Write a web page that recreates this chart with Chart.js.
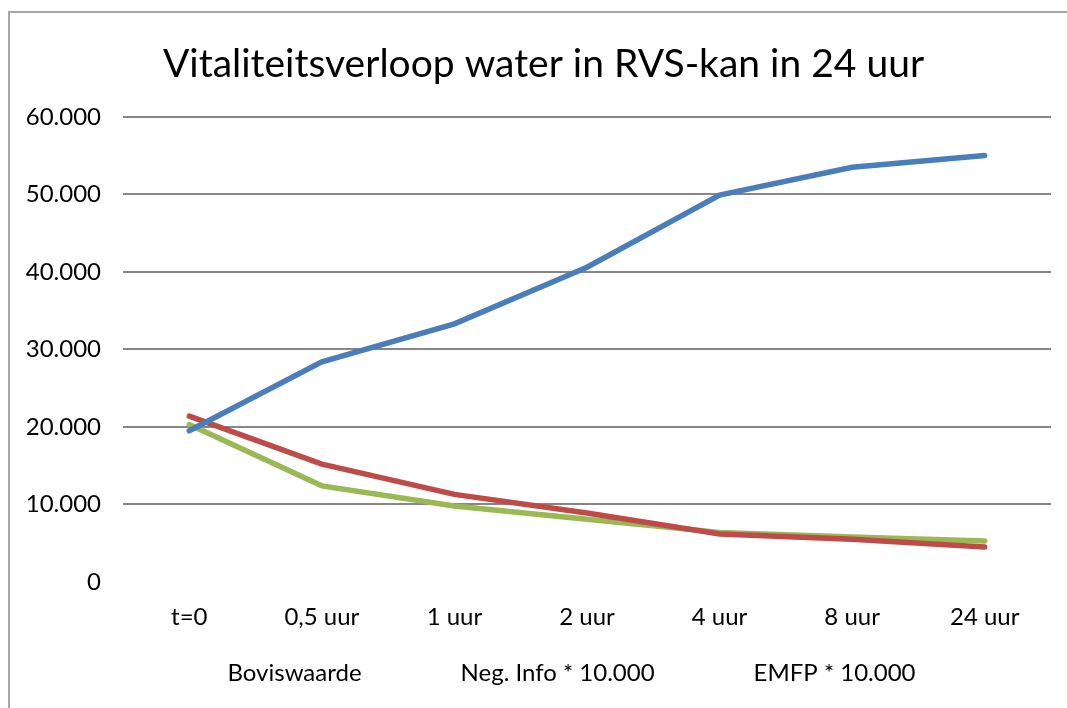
<!DOCTYPE html>
<html>
<head>
<meta charset="utf-8">
<script src="https://cdn.jsdelivr.net/npm/chart.js@4/dist/chart.umd.min.js"></script>
<style>
  body { margin: 0; background: #fff; }
  #wrap { position: relative; width: 1067px; height: 708px; }
  #frame { position: absolute; left: 8px; top: 11px; width: 1100px; height: 720px; border: 2px solid #a6a6a6; box-sizing: border-box; }
  canvas { position: absolute; left: 0; top: 0; }
</style>
</head>
<body>
<div id="wrap">
  <div id="frame"></div>
  <canvas id="chart" width="1067" height="708"></canvas>
</div>
<script>
const labels = ["t=0", "0,5 uur", "1 uur", "2 uur", "4 uur", "8 uur", "24 uur"];
const boviswaarde = [19500, 28400, 33300, 40600, 49900, 53500, 55000];
const negInfo = [21400, 15200, 11300, 8900, 6200, 5500, 4500];
const emfp = [20300, 12400, 9800, 8100, 6400, 5800, 5300];
const yTicks = [0, 10000, 20000, 30000, 40000, 50000, 60000];

const font = "Lato, 'Open Sans', sans-serif";

function fmt(v) {
  return v === 0 ? "0" : v.toLocaleString("de-DE");
}

// legend without colour keys, only the names
function legendLabels(chart) {
  return chart.data.datasets.map((ds, i) => ({
    text: ds.label,
    fillStyle: "rgba(0,0,0,0)",
    strokeStyle: "rgba(0,0,0,0)",
    lineWidth: 0,
    fontColor: "#000",
    datasetIndex: i,
  }));
}

// title and legend sit a little right of the canvas centre in the original
const nudge = {
  id: "nudge",
  afterLayout(chart) {
    if (chart.titleBlock) chart.titleBlock.left += 36;
    if (chart.legend) chart.legend.left += 14;
  },
};

const ctx = document.getElementById("chart").getContext("2d");
new Chart(ctx, {
  type: "line",
  data: {
    labels: labels,
    datasets: [
      { label: "Boviswaarde", data: boviswaarde, borderColor: "#4a7ebb", backgroundColor: "#4a7ebb" },
      { label: "Neg. Info * 10.000", data: negInfo, borderColor: "#be4b48", backgroundColor: "#be4b48" },
      { label: "EMFP * 10.000", data: emfp, borderColor: "#98b954", backgroundColor: "#98b954" },
    ],
  },
  plugins: [nudge],
  options: {
    responsive: false,
    animation: false,
    elements: {
      line: { borderWidth: 5.5, tension: 0, borderCapStyle: "round" },
      point: { radius: 0 },
    },
    layout: { padding: { left: 0, right: 16, top: 0, bottom: 13 } },
    plugins: {
      title: {
        display: true,
        text: "Vitaliteitsverloop water in RVS-kan in 24 uur",
        color: "#000",
        font: { family: font, size: 39, weight: "normal" },
        padding: { top: 41, bottom: 29 },
      },
      legend: {
        position: "bottom",
        labels: {
          boxWidth: 66,
          boxHeight: 0,
          padding: 21,
          color: "#000",
          font: { family: font, size: 24 },
          generateLabels: legendLabels,
        },
      },
      tooltip: { enabled: false },
    },
    scales: {
      x: {
        offset: true,
        afterFit: (s) => { s.height = 58; },
        grid: { display: false, drawTicks: false },
        border: { display: false },
        ticks: { color: "#000", padding: 21, font: { family: font, size: 24 } },
      },
      y: {
        min: 0,
        max: 60000,
        afterFit: (s) => { s.width = 123; },
        afterBuildTicks: (s) => { s.ticks = yTicks.map((v) => ({ value: v })); },
        grid: {
          color: (c) => (c.tick && c.tick.value === 0 ? "rgba(0,0,0,0)" : "#868686"),
          lineWidth: 2,
          drawTicks: false,
        },
        border: { display: false },
        ticks: { color: "#000", padding: 22, font: { family: font, size: 24 }, callback: (v) => fmt(v) },
      },
    },
  },
});
</script>
</body>
</html>
